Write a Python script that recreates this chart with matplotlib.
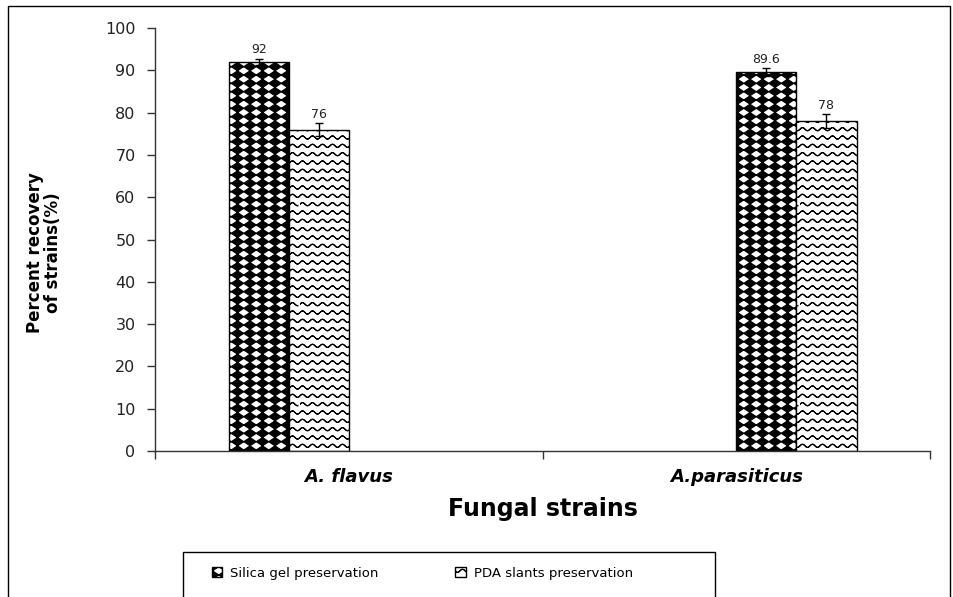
import warnings
import numpy as np
import matplotlib
matplotlib.use('Agg')
import matplotlib.pyplot as plt
import matplotlib.hatch as mhatch
from matplotlib.path import Path
from matplotlib.patches import Rectangle

warnings.simplefilter('ignore')

# data
strains = ['A. flavus', 'A.parasiticus']
series = ['Silica gel preservation', 'PDA slants preservation']
silica = [92, 89.6]
pda = [76, 78]
silica_err = [0.8, 0.9]
pda_err = [1.5, 1.6]
silica_lbl = ['92', '89.6']
pda_lbl = ['76', '78']


# excel style fill patterns: black diamond lattice ('d') and waves ('w')
class DiamondHatch(mhatch.HatchPatternBase):
    def __init__(self, hatch, density):
        n = hatch.count('d')
        self.ncols = 8 * n
        self.nrows = 12 * n
        self.num_vertices = 0 if n == 0 else (self.nrows + 1) * (self.ncols + 1) * 5

    def set_vertices_and_codes(self, vertices, codes):
        dx = 1.0 / self.ncols
        dy = 1.0 / self.nrows
        shape = np.array([[0, -1], [1, 0], [0, 1], [-1, 0], [0, -1]], float)
        shape[:, 0] *= dx * 0.5
        shape[:, 1] *= dy * 0.5
        scodes = [Path.MOVETO, Path.LINETO, Path.LINETO, Path.LINETO, Path.CLOSEPOLY]
        k = 0
        for r in range(self.nrows + 1):
            for c in range(self.ncols + 1):
                vertices[k:k + 5] = shape + [c * dx, r * dy]
                codes[k:k + 5] = scodes
                k += 5


class WaveHatch(mhatch.HatchPatternBase):
    def __init__(self, hatch, density):
        n = hatch.count('w')
        self.nlines = 12 * n
        self.cycles = 10
        self.pts = self.cycles * 10 + 1
        self.num_vertices = self.nlines * self.pts * 2

    def set_vertices_and_codes(self, vertices, codes):
        xs = np.linspace(0, 1, self.pts)
        wave = 0.016 * np.sin(2 * np.pi * self.cycles * xs)
        k = 0
        n = self.pts * 2
        for i in range(self.nlines):
            y0 = (i + 0.5) / self.nlines
            seg = np.column_stack([xs, y0 + wave])
            vertices[k:k + n] = np.vstack([seg, seg[::-1]])
            codes[k] = Path.MOVETO
            codes[k + 1:k + n] = Path.LINETO
            k += n


mhatch._hatch_types.extend([DiamondHatch, WaveHatch])

plt.rcParams['font.family'] = ['DejaVu Sans']
plt.rcParams['hatch.linewidth'] = 0.8

fig = plt.figure(figsize=(9.54, 5.97), dpi=100)
ax = fig.add_axes([0.1625, 0.2446, 0.8125, 0.7084])

x = np.arange(len(strains))
bw = 0.155
# excel puts the pair left of centre for the first group and right for the second
starts = x + np.array([-0.31, 0.0])

b1 = ax.bar(starts, silica, bw, align='edge', color='white', edgecolor='black',
            linewidth=1, hatch='d', label=series[0])
b2 = ax.bar(starts + bw, pda, bw, align='edge', color='white', edgecolor='black',
            linewidth=1, hatch='w', label=series[1])

ax.errorbar(starts + bw / 2, silica, yerr=silica_err, fmt='none', ecolor='black',
            elinewidth=1, capsize=3)
ax.errorbar(starts + bw * 1.5, pda, yerr=pda_err, fmt='none', ecolor='black',
            elinewidth=1, capsize=3)

for xs, vals, errs, lbls in [(starts + bw / 2, silica, silica_err, silica_lbl),
                              (starts + bw * 1.5, pda, pda_err, pda_lbl)]:
    for xi, v, e, t in zip(xs, vals, errs, lbls):
        ax.text(xi, v + e + 0.6, t, ha='center', va='bottom', fontsize=9, color='#222222')

ax.set_xlim(-0.5, 1.5)
ax.set_ylim(0, 100)
ax.set_yticks(range(0, 101, 10))
ax.tick_params(axis='y', direction='out', length=6, width=1, labelsize=11.5, pad=8,
               colors='#333333', labelcolor='#222222')
ax.set_xticks([-0.5, 0.5, 1.5])
ax.set_xticklabels([])
ax.tick_params(axis='x', which='major', direction='out', length=6, width=1, colors='#333333')
ax.set_xticks(x, minor=True)
ax.set_xticklabels(strains, minor=True, fontsize=13, fontweight='bold', style='italic')
ax.tick_params(axis='x', which='minor', length=0, pad=12)

for s in ['top', 'right']:
    ax.spines[s].set_visible(False)
for s in ['left', 'bottom']:
    ax.spines[s].set_color('#333333')
    ax.spines[s].set_linewidth(1)

ax.set_xlabel('Fungal strains', fontsize=17, fontweight='bold', labelpad=8)
ax.set_ylabel('Percent recovery\nof strains(%)', fontsize=12, fontweight='bold',
              linespacing=1.0)
ax.yaxis.set_label_coords(-0.12, 0.47)

# legend box drawn separately so the entries can sit like in the original
leg = fig.legend(handles=[b1, b2], loc='center left', ncol=2,
                 bbox_to_anchor=(0.222, 0.040), fontsize=9.5, frameon=False,
                 borderpad=0, borderaxespad=0, columnspacing=5.8,
                 handlelength=0.8, handleheight=0.8, handletextpad=0.6)
fig.patches.append(Rectangle((0.1918, -0.01), 0.5577, 0.0854, fill=False,
                             edgecolor='black', linewidth=1, transform=fig.transFigure))

# outer frame
fig.patches.append(Rectangle((0.0084, -0.01), 0.9874, 1 - 0.0101 + 0.01, fill=False,
                             edgecolor='black', linewidth=1, transform=fig.transFigure))

fig.savefig('out.png', dpi=100)
